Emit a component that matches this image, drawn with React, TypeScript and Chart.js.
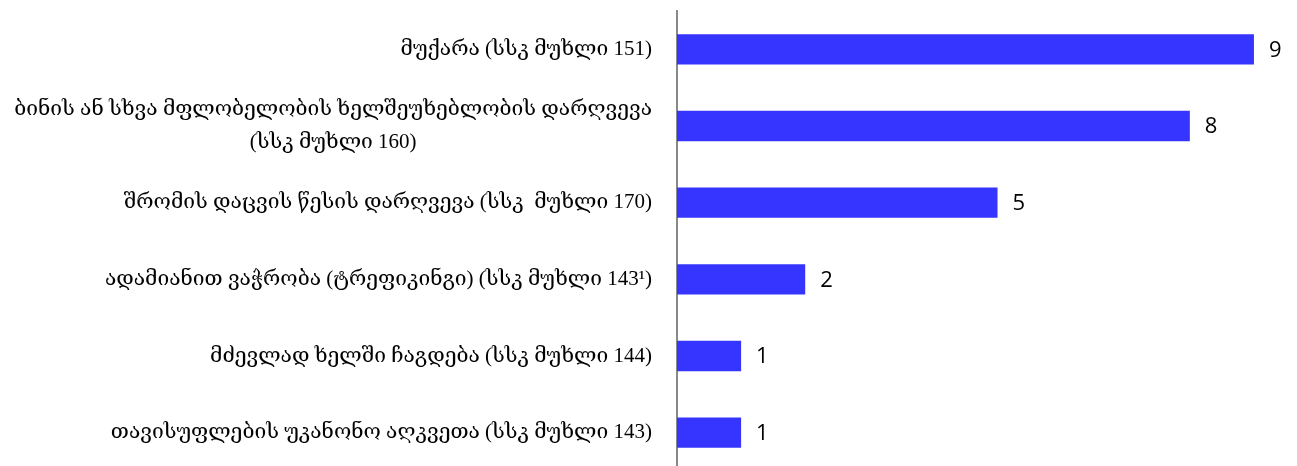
import React, { useEffect, useRef } from "react";
import { Chart, registerables } from "chart.js";

Chart.register(...registerables);

const categories: (string | string[])[] = [
  "მუქარა (სსკ მუხლი 151)",
  ["ბინის ან სხვა მფლობელობის ხელშეუხებლობის დარღვევა", "(სსკ მუხლი 160)"],
  "შრომის დაცვის წესის დარღვევა (სსკ  მუხლი 170)",
  "ადამიანით ვაჭრობა (ტრეფიკინგი) (სსკ მუხლი 143¹)",
  "მძევლად ხელში ჩაგდება (სსკ მუხლი 144)",
  "თავისუფლების უკანონო აღკვეთა (სსკ მუხლი 143)",
];
const values: number[] = [9, 8, 5, 2, 1, 1];

const LABEL_FONT = "21px 'Liberation Serif', 'DejaVu Serif', serif";
const VALUE_FONT = "22px 'Open Sans', 'DejaVu Sans', sans-serif";

const labelPlugin = {
  id: "customLabels",
  afterDraw(chart: any) {
    const ctx = chart.ctx as CanvasRenderingContext2D;
    const yScale = chart.scales.y;
    const xScale = chart.scales.x;
    const area = chart.chartArea;
    ctx.save();
    // category labels
    ctx.font = LABEL_FONT;
    ctx.fillStyle = "#000000";
    ctx.textBaseline = "middle";
    const rightEdge = area.left - 25;
    const lineH = 33;
    categories.forEach((lab, i) => {
      const y = yScale.getPixelForValue(i);
      const lines = Array.isArray(lab) ? lab : [lab];
      const widths = lines.map((l) => ctx.measureText(l).width);
      const maxW = Math.max(...widths);
      const cx = rightEdge - maxW / 2;
      ctx.textAlign = "center";
      lines.forEach((l, j) => {
        const ly = y + (j - (lines.length - 1) / 2) * lineH;
        ctx.fillText(l, cx, ly);
      });
    });
    // value labels
    ctx.font = VALUE_FONT;
    ctx.textAlign = "left";
    values.forEach((v, i) => {
      const x = xScale.getPixelForValue(v);
      const y = yScale.getPixelForValue(i);
      ctx.fillText(String(v), x + 15, y + 1);
    });
    ctx.restore();
  },
};

export default function App() {
  const ref = useRef<HTMLCanvasElement | null>(null);
  useEffect(() => {
    if (!ref.current) return;
    const chart = new Chart(ref.current, {
      type: "bar",
      data: {
        labels: categories.map((c) => (Array.isArray(c) ? c.join(" ") : c)),
        datasets: [
          {
            data: values,
            backgroundColor: "#3535FF",
            borderWidth: 0,
            barPercentage: 0.395,
            categoryPercentage: 1,
          },
        ],
      },
      options: {
        indexAxis: "y",
        responsive: false,
        animation: false,
        layout: { padding: { top: 11, right: 11, bottom: 0, left: 0 } },
        plugins: {
          legend: { display: false },
          tooltip: { enabled: false },
          title: { display: false },
        },
        scales: {
          x: {
            display: false,
            min: 0,
            max: 9.5,
          },
          y: {
            grid: { display: false, drawTicks: false },
            border: { display: true, color: "#898989", width: 2 },
            ticks: { display: false },
            afterFit: (scale: any) => {
              scale.width = 677;
            },
          },
        },
      },
      plugins: [labelPlugin],
    });
    return () => chart.destroy();
  }, []);
  return (
    <div
      style={{
        position: "fixed",
        left: 0,
        top: 0,
        width: 1297,
        height: 466,
        overflow: "hidden",
        background: "#ffffff",
      }}
    >
      <canvas ref={ref} width={1297} height={471} style={{ display: "block" }} />
    </div>
  );
}
